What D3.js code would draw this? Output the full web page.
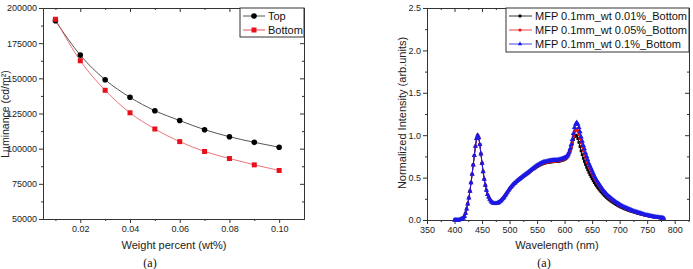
<!DOCTYPE html>
<html>
<head>
<meta charset="utf-8">
<script src="https://cdn.jsdelivr.net/npm/d3@7"></script>
<style>
  body { margin: 0; background: #fff; }
  svg text { font-family: "Liberation Sans", Arial, sans-serif; }
  .cap { font-family: "Liberation Serif", "Times New Roman", serif !important; }
</style>
</head>
<body>
<svg id="chart" width="693" height="269"></svg>
<script>
// ---- left panel data ----
const weight = [0.01, 0.02, 0.03, 0.04, 0.05, 0.06, 0.07, 0.08, 0.09, 0.10];
const lumTop = [191000, 166500, 149000, 136500, 127000, 120000, 113500, 108500, 104500, 101000];
const lumBottom = [192000, 162500, 141500, 125500, 114000, 105000, 98000, 93000, 88500, 84500];
const lumTicks = [50000, 75000, 100000, 125000, 150000, 175000, 200000];
const weightTicks = [0.02, 0.04, 0.06, 0.08, 0.10];

// ---- right panel data (sampled every 2 nm, 400-780 nm) ----
const wavelength = d3.range(400, 781, 2);
const spec001 = [
  0.000,0.000,0.000,0.000,0.000,0.005,0.010,0.015,0.025,0.045,
  0.080,0.130,0.190,0.260,0.340,0.440,0.540,0.650,0.760,0.870,
  0.960,1.000,0.970,0.890,0.780,0.670,0.570,0.480,0.410,0.350,
  0.300,0.270,0.245,0.225,0.210,0.200,0.195,0.195,0.195,0.200,
  0.204,0.213,0.222,0.236,0.250,0.265,0.285,0.305,0.325,0.344,
  0.363,0.378,0.393,0.408,0.422,0.432,0.446,0.456,0.466,0.476,
  0.486,0.496,0.506,0.516,0.526,0.536,0.545,0.555,0.565,0.575,
  0.585,0.594,0.603,0.612,0.621,0.630,0.637,0.644,0.651,0.657,
  0.662,0.667,0.671,0.674,0.677,0.680,0.682,0.684,0.686,0.687,
  0.688,0.689,0.690,0.691,0.692,0.694,0.697,0.700,0.704,0.709,
  0.715,0.722,0.732,0.750,0.776,0.810,0.852,0.900,0.950,0.985,
  1.000,0.990,0.960,0.915,0.865,0.815,0.770,0.728,0.690,0.655,
  0.622,0.592,0.563,0.536,0.511,0.487,0.464,0.442,0.421,0.402,
  0.384,0.367,0.351,0.335,0.320,0.305,0.292,0.279,0.267,0.256,
  0.245,0.235,0.225,0.216,0.207,0.198,0.190,0.182,0.174,0.167,
  0.160,0.153,0.147,0.141,0.135,0.130,0.125,0.120,0.115,0.110,
  0.106,0.102,0.098,0.094,0.090,0.086,0.082,0.079,0.075,0.072,
  0.069,0.066,0.063,0.060,0.057,0.054,0.051,0.048,0.046,0.043,
  0.041,0.039,0.037,0.035,0.033,0.031,0.029,0.027,0.025,0.023,
  0.021
];
const spec005 = [
  0.000,0.000,0.000,0.000,0.000,0.005,0.010,0.015,0.025,0.045,
  0.080,0.130,0.190,0.260,0.340,0.440,0.540,0.650,0.760,0.870,
  0.960,1.000,0.970,0.890,0.780,0.670,0.570,0.480,0.410,0.350,
  0.300,0.270,0.245,0.225,0.210,0.200,0.195,0.195,0.195,0.200,
  0.205,0.214,0.224,0.238,0.253,0.268,0.288,0.308,0.328,0.348,
  0.367,0.382,0.397,0.412,0.427,0.437,0.451,0.461,0.471,0.481,
  0.491,0.501,0.511,0.521,0.531,0.541,0.550,0.560,0.570,0.580,
  0.590,0.600,0.609,0.618,0.627,0.636,0.643,0.650,0.657,0.663,
  0.668,0.673,0.677,0.680,0.683,0.686,0.688,0.690,0.692,0.693,
  0.695,0.696,0.697,0.698,0.700,0.702,0.705,0.708,0.712,0.717,
  0.723,0.730,0.740,0.758,0.785,0.820,0.865,0.920,0.985,1.040,
  1.065,1.070,1.050,1.010,0.960,0.910,0.865,0.820,0.780,0.740,
  0.705,0.670,0.635,0.605,0.577,0.550,0.523,0.496,0.472,0.449,
  0.430,0.410,0.391,0.372,0.354,0.336,0.321,0.307,0.293,0.279,
  0.268,0.258,0.247,0.236,0.226,0.216,0.207,0.198,0.189,0.181,
  0.174,0.166,0.159,0.153,0.147,0.141,0.135,0.130,0.124,0.119,
  0.114,0.109,0.104,0.099,0.095,0.091,0.086,0.082,0.078,0.075,
  0.071,0.067,0.063,0.060,0.057,0.054,0.051,0.048,0.045,0.042,
  0.040,0.038,0.036,0.034,0.032,0.030,0.028,0.026,0.024,0.022,
  0.020
];
const spec01 = [
  0.000,0.000,0.000,0.000,0.000,0.005,0.010,0.015,0.025,0.045,
  0.080,0.130,0.190,0.260,0.340,0.440,0.540,0.650,0.760,0.870,
  0.960,1.000,0.970,0.890,0.780,0.670,0.570,0.480,0.410,0.350,
  0.300,0.270,0.245,0.225,0.210,0.200,0.195,0.195,0.195,0.200,
  0.205,0.215,0.225,0.240,0.255,0.270,0.290,0.310,0.330,0.350,
  0.370,0.385,0.400,0.415,0.430,0.440,0.455,0.465,0.475,0.485,
  0.495,0.505,0.515,0.525,0.535,0.545,0.555,0.565,0.575,0.585,
  0.595,0.605,0.615,0.625,0.635,0.645,0.652,0.660,0.667,0.673,
  0.678,0.683,0.687,0.690,0.693,0.696,0.698,0.700,0.702,0.703,
  0.705,0.706,0.707,0.708,0.710,0.712,0.715,0.718,0.722,0.727,
  0.733,0.740,0.750,0.770,0.800,0.840,0.890,0.950,1.020,1.090,
  1.130,1.150,1.130,1.090,1.040,0.980,0.930,0.880,0.840,0.790,
  0.750,0.710,0.670,0.640,0.610,0.580,0.550,0.520,0.495,0.470,
  0.450,0.430,0.410,0.390,0.370,0.350,0.335,0.320,0.305,0.290,
  0.280,0.270,0.258,0.247,0.236,0.226,0.216,0.207,0.198,0.190,
  0.182,0.174,0.167,0.160,0.154,0.148,0.142,0.136,0.130,0.124,
  0.119,0.114,0.109,0.104,0.099,0.095,0.090,0.086,0.082,0.078,
  0.074,0.070,0.066,0.062,0.059,0.056,0.053,0.050,0.047,0.044,
  0.042,0.040,0.037,0.035,0.033,0.031,0.029,0.027,0.025,0.023,
  0.021
];
const specNames = ["MFP 0.1mm_wt 0.01%_Bottom", "MFP 0.1mm_wt 0.05%_Bottom", "MFP 0.1mm_wt 0.1%_Bottom"];
const specTicksX = [350, 400, 450, 500, 550, 600, 650, 700, 750, 800];
const specTicksY = [0.0, 0.5, 1.0, 1.5, 2.0, 2.5];

const svg = d3.select("#chart");
const axisColor = "#333";

// draw box frame with outward ticks bottom/left and inward ticks top/right
function drawFrame(x, y, opt) {
  const g = svg.append("g");
  const [x0, x1] = x.range();
  const [y0, y1] = y.range(); // y0 bottom, y1 top

  g.append("g").attr("transform", `translate(0,${y0})`)
    .call(d3.axisBottom(x).tickValues(opt.xMajor).tickSize(4).tickPadding(3).tickFormat(opt.xFmt).tickSizeOuter(0));
  g.append("g").attr("transform", `translate(0,${y0})`)
    .call(d3.axisBottom(x).tickValues(opt.xMinor).tickSize(2).tickFormat("").tickSizeOuter(0));
  g.append("g").attr("transform", `translate(${x0},0)`)
    .call(d3.axisLeft(y).tickValues(opt.yMajor).tickSize(4).tickPadding(2).tickFormat(opt.yFmt).tickSizeOuter(0));
  g.append("g").attr("transform", `translate(${x0},0)`)
    .call(d3.axisLeft(y).tickValues(opt.yMinor).tickSize(2).tickFormat("").tickSizeOuter(0));
  g.append("g").attr("transform", `translate(0,${y1})`)
    .call(d3.axisTop(x).tickValues(opt.xMajor).tickSize(-4).tickFormat("").tickSizeOuter(0));
  g.append("g").attr("transform", `translate(0,${y1})`)
    .call(d3.axisTop(x).tickValues(opt.xMinor).tickSize(-2).tickFormat("").tickSizeOuter(0));
  g.append("g").attr("transform", `translate(${x1},0)`)
    .call(d3.axisRight(y).tickValues(opt.yMajor).tickSize(-4).tickFormat("").tickSizeOuter(0));
  g.append("g").attr("transform", `translate(${x1},0)`)
    .call(d3.axisRight(y).tickValues(opt.yMinor).tickSize(-2).tickFormat("").tickSizeOuter(0));

  g.selectAll("path.domain").attr("stroke", axisColor);
  g.selectAll(".tick line").attr("stroke", axisColor);
  g.selectAll(".tick text").attr("fill", "#222").style("font-size", "9px");
  return g;
}

// ================= left panel =================
const xL = d3.scaleLinear().domain([0.005, 0.11]).range([43, 304]);
const yL = d3.scaleLinear().domain([50000, 200000]).range([219, 8]);

drawFrame(xL, yL, {
  xMajor: weightTicks,
  xMinor: [0.01, 0.03, 0.05, 0.07, 0.09],
  yMajor: lumTicks,
  yMinor: [62500, 87500, 112500, 137500, 162500, 187500],
  xFmt: d3.format(".2f"),
  yFmt: d3.format("d")
});

const lineL = d3.line().x(d => xL(d[0])).y(d => yL(d[1])).curve(d3.curveMonotoneX);
const topPts = weight.map((w, i) => [w, lumTop[i]]);
const botPts = weight.map((w, i) => [w, lumBottom[i]]);

svg.append("path").datum(topPts).attr("d", lineL)
  .attr("fill", "none").attr("stroke", "#555").attr("stroke-width", 1);
svg.append("path").datum(botPts).attr("d", lineL)
  .attr("fill", "none").attr("stroke", "#e8505b").attr("stroke-width", 0.8);

svg.selectAll("circle.top").data(topPts).enter().append("circle")
  .attr("cx", d => xL(d[0])).attr("cy", d => yL(d[1])).attr("r", 2.8).attr("fill", "#000");
svg.selectAll("rect.bot").data(botPts).enter().append("rect")
  .attr("x", d => xL(d[0]) - 2.5).attr("y", d => yL(d[1]) - 2.5)
  .attr("width", 5).attr("height", 5).attr("fill", "#e8101c");

// legend
const legL = svg.append("g");
legL.append("rect").attr("x", 240).attr("y", 8).attr("width", 64).attr("height", 29)
  .attr("fill", "#fff").attr("stroke", axisColor).attr("stroke-width", 1);
legL.append("line").attr("x1", 243).attr("x2", 265).attr("y1", 16).attr("y2", 16).attr("stroke", "#555");
legL.append("circle").attr("cx", 254).attr("cy", 16).attr("r", 2.8).attr("fill", "#000");
legL.append("text").attr("x", 268).attr("y", 20).text("Top").style("font-size", "11px").attr("fill", "#111");
legL.append("line").attr("x1", 243).attr("x2", 265).attr("y1", 30).attr("y2", 30).attr("stroke", "#e8505b");
legL.append("rect").attr("x", 251.5).attr("y", 27.5).attr("width", 5).attr("height", 5).attr("fill", "#e8101c");
legL.append("text").attr("x", 268).attr("y", 34).text("Bottom").style("font-size", "11px").attr("fill", "#111");

svg.append("text").attr("x", 174).attr("y", 249).attr("text-anchor", "middle")
  .style("font-size", "11px").attr("fill", "#222").text("Weight percent (wt%)");
svg.append("text").attr("transform", "translate(8.5,114) rotate(-90)").attr("text-anchor", "middle")
  .style("font-size", "10.5px").attr("fill", "#222").text("Luminance (cd/m²)");
svg.append("text").attr("class", "cap").attr("x", 150).attr("y", 267).attr("text-anchor", "middle")
  .style("font-size", "12px").attr("fill", "#111").text("(a)");

// ================= right panel =================
const xR = d3.scaleLinear().domain([350, 826]).range([427, 689]);
const yR = d3.scaleLinear().domain([0, 2.5]).range([220, 8]);

drawFrame(xR, yR, {
  xMajor: specTicksX,
  xMinor: [375, 425, 475, 525, 575, 625, 675, 725, 775, 825],
  yMajor: specTicksY,
  yMinor: [0.25, 0.75, 1.25, 1.75, 2.25],
  xFmt: d3.format("d"),
  yFmt: d3.format(".1f")
});

const series = [
  { name: specNames[0], vals: spec001, color: "#000", sym: d3.symbolSquare, size: 8 },
  { name: specNames[1], vals: spec005, color: "#ee1111", sym: d3.symbolCircle, size: 10 },
  { name: specNames[2], vals: spec01, color: "#1a1ae6", sym: d3.symbolTriangle, size: 12 }
];

const lineR = d3.line().x(d => xR(d[0])).y(d => yR(d[1]));
series.forEach(s => {
  const pts = wavelength.map((w, i) => [w, s.vals[i]]);
  svg.append("path").datum(pts).attr("d", lineR)
    .attr("fill", "none").attr("stroke", s.color).attr("stroke-width", 1);
  svg.append("g").selectAll("path").data(pts).enter().append("path")
    .attr("transform", d => `translate(${xR(d[0])},${yR(d[1])})`)
    .attr("d", d3.symbol().type(s.sym).size(s.size))
    .attr("fill", s.color);
});

// legend
const legR = svg.append("g");
legR.append("rect").attr("x", 506).attr("y", 8).attr("width", 183).attr("height", 44)
  .attr("fill", "#fff").attr("stroke", axisColor).attr("stroke-width", 1);
series.forEach((s, i) => {
  const yy = 16 + i * 14;
  legR.append("line").attr("x1", 509).attr("x2", 532).attr("y1", yy).attr("y2", yy)
    .attr("stroke", s.color).attr("stroke-width", 0.8);
  legR.append("path").attr("transform", `translate(520,${yy})`)
    .attr("d", d3.symbol().type(s.sym).size(8)).attr("fill", s.color);
  legR.append("text").attr("x", 535).attr("y", yy + 4).text(s.name)
    .style("font-size", "11px").attr("fill", "#111");
});

svg.append("text").attr("x", 557).attr("y", 249).attr("text-anchor", "middle")
  .style("font-size", "11px").attr("fill", "#222").text("Wavelength (nm)");
svg.append("text").attr("transform", "translate(406,113) rotate(-90)").attr("text-anchor", "middle")
  .style("font-size", "11px").attr("fill", "#222").text("Normalized Intensity (arb.units)");
svg.append("text").attr("class", "cap").attr("x", 544).attr("y", 267).attr("text-anchor", "middle")
  .style("font-size", "12px").attr("fill", "#111").text("(a)");
</script>
</body>
</html>
